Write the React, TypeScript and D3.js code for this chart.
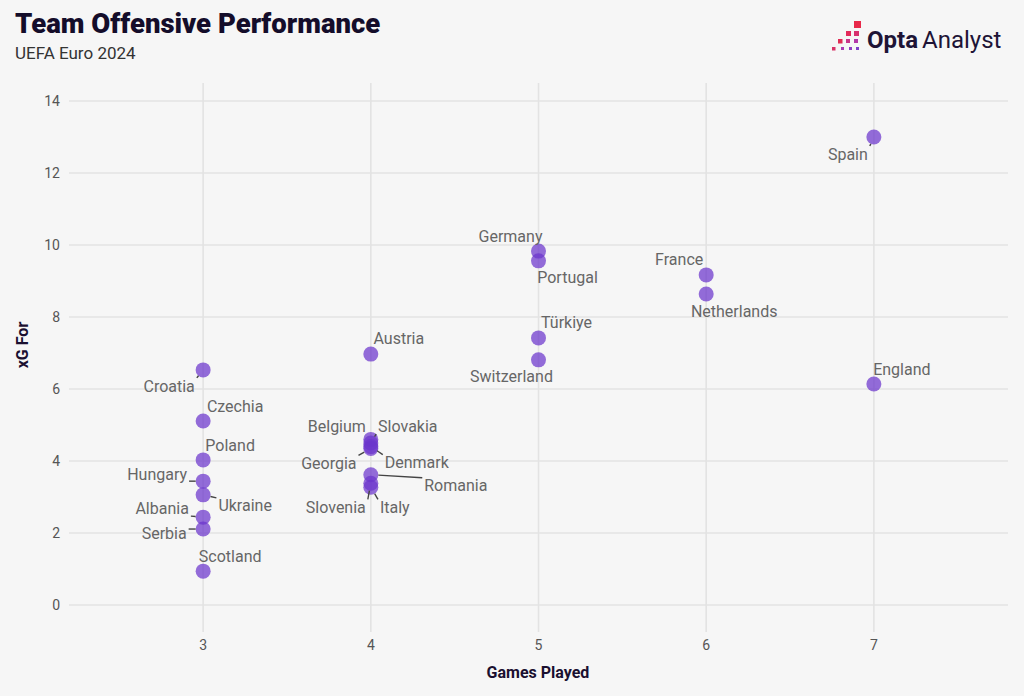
import React, { useEffect, useRef } from "react";
import * as d3 from "d3";

const teams = ["Spain","England","Germany","Portugal","France","Netherlands","Türkiye","Switzerland","Austria","Croatia","Czechia","Poland","Hungary","Ukraine","Albania","Serbia","Scotland","Belgium","Slovakia","Georgia","Denmark","Romania","Slovenia","Italy"];
const gamesPlayed = [7,7,5,5,6,6,5,5,4,3,3,3,3,3,3,3,3,4,4,4,4,4,4,4];
const xgFor = [13.0,6.14,9.83,9.56,9.17,8.64,7.42,6.81,6.97,6.53,5.11,4.03,3.44,3.06,2.44,2.11,0.94,4.6,4.5,4.35,4.4,3.62,3.38,3.27];
const xTicks = [3,4,5,6,7];
const yTicks = [0,2,4,6,8,10,12,14];

// label placement offsets (pixels from the point), like a repel layout
const labelDx = [-26,28,-28,29,-27,28,28,-27,28,-34,32,27,-46,42,-41,-39,27,-34,37,-42,46,85,-35,24];
const labelDy = [17,-15,-15,17,-15,17,-15,17,-16,16,-15,-15,-7,11,-9,4,-15,-13,-17,15,16,11,24,20];

const W = 1024, H = 696;

export default function App() {
  const ref = useRef<SVGSVGElement>(null);
  useEffect(() => {
    document.body.style.margin = "0";
    const svg = d3.select(ref.current);
    svg.selectAll("*").remove();
    const x = d3.scaleLinear().domain([2.2, 7.8]).range([69, 1008]);
    const y = d3.scaleLinear().domain([-0.75, 14.5]).range([632, 83]);

    svg.append("rect").attr("width", W).attr("height", H).attr("fill", "#f6f6f6");

    const g = svg.append("g");
    g.selectAll("line.h").data(yTicks).join("line")
      .attr("x1", x.range()[0]).attr("x2", x.range()[1])
      .attr("y1", d => y(d)).attr("y2", d => y(d))
      .attr("stroke", "#e3e3e3").attr("stroke-width", 1.6);
    g.selectAll("line.v").data(xTicks).join("line")
      .attr("y1", y.range()[0]).attr("y2", y.range()[1])
      .attr("x1", d => x(d)).attr("x2", d => x(d))
      .attr("stroke", "#e3e3e3").attr("stroke-width", 1.6);

    const font = "Roboto, 'DejaVu Sans', sans-serif";
    g.selectAll("text.yt").data(yTicks).join("text")
      .attr("x", 60).attr("y", d => y(d)).attr("dy", "0.35em")
      .attr("text-anchor", "end").attr("font-family", font).attr("font-size", 14)
      .attr("fill", "#555").text(d => d);
    g.selectAll("text.xt").data(xTicks).join("text")
      .attr("x", d => x(d)).attr("y", 645).attr("dy", "0.35em")
      .attr("text-anchor", "middle").attr("font-family", font).attr("font-size", 14)
      .attr("fill", "#555").text(d => d);

    svg.append("text").attr("x", 538).attr("y", 678).attr("text-anchor", "middle")
      .attr("font-family", font).attr("font-weight", 700).attr("font-size", 16)
      .attr("fill", "#1a1030").text("Games Played");
    svg.append("text").attr("transform", "translate(28,345) rotate(-90)").attr("text-anchor", "middle")
      .attr("font-family", font).attr("font-weight", 700).attr("font-size", 16)
      .attr("fill", "#1a1030").text("xG For");

    svg.append("text").attr("x", 15).attr("y", 33)
      .attr("font-family", font).attr("font-weight", 900).attr("font-size", 27.5)
      .attr("fill", "#140d2a").text("Team Offensive Performance");
    svg.append("text").attr("x", 15).attr("y", 59)
      .attr("font-family", font).attr("font-size", 17)
      .attr("fill", "#333").text("UEFA Euro 2024");

    // logo
    const logo = svg.append("g");
    const sq: [number, number, number, string][] = [
      [854,21,7,"#e8294a"],
      [846,31,5,"#e32a5a"],[854,31,5,"#d8306e"],
      [838,39,4.5,"#e02c55"],[846,39,4,"#c9348a"],[854,39,4,"#b338a8"],
      [832,47,3.5,"#d83266"],[841,47,3,"#a83cb5"],[849,47,3,"#8f3fc2"],[856,47,3,"#8040c8"],
    ];
    logo.selectAll("rect").data(sq).join("rect")
      .attr("x", d => d[0]).attr("y", d => d[1]).attr("width", d => d[2]).attr("height", d => d[2])
      .attr("fill", d => d[3]);
    const lt = logo.append("text").attr("x", 867).attr("y", 48)
      .attr("font-family", font).attr("font-size", 24).attr("fill", "#1e1436");
    lt.append("tspan").attr("font-weight", 700).text("Opta");
    lt.append("tspan").attr("font-weight", 400).attr("dx", 4).text("Analyst");

    const data = teams.map((t, i) => ({ t, gx: x(gamesPlayed[i]), gy: y(xgFor[i]), dx: labelDx[i], dy: labelDy[i] }));
    const r = 7.5;
    g.selectAll("circle").data(data).join("circle")
      .attr("cx", d => d.gx).attr("cy", d => d.gy).attr("r", r)
      .attr("fill", "#6b34cc").attr("fill-opacity", 0.72);

    const lbl = g.append("g");
    data.forEach(d => {
      const cx = d.gx + d.dx, cy = d.gy + d.dy;
      const tx = lbl.append("text").attr("x", cx).attr("y", cy).attr("dy", "0.35em")
        .attr("text-anchor", "middle").attr("font-family", font).attr("font-size", 16)
        .attr("fill", "#666").text(d.t);
      const w = (tx.node() as SVGTextElement).getComputedTextLength();
      const hw = w / 2 + 2, hh = 8;
      const nx = Math.max(cx - hw, Math.min(d.gx, cx + hw));
      const ny = Math.max(cy - hh, Math.min(d.gy, cy + hh));
      const vx = nx - d.gx, vy = ny - d.gy;
      const len = Math.hypot(vx, vy);
      if (len > r + 2) {
        const sx = d.gx + (vx / len) * r, sy = d.gy + (vy / len) * r;
        lbl.insert("line", "text").attr("x1", sx).attr("y1", sy).attr("x2", nx).attr("y2", ny)
          .attr("stroke", "#444").attr("stroke-width", 1.4);
      }
    });
  }, []);
  return <svg ref={ref} width={W} height={H} style={{ display: "block" }} />;
}
